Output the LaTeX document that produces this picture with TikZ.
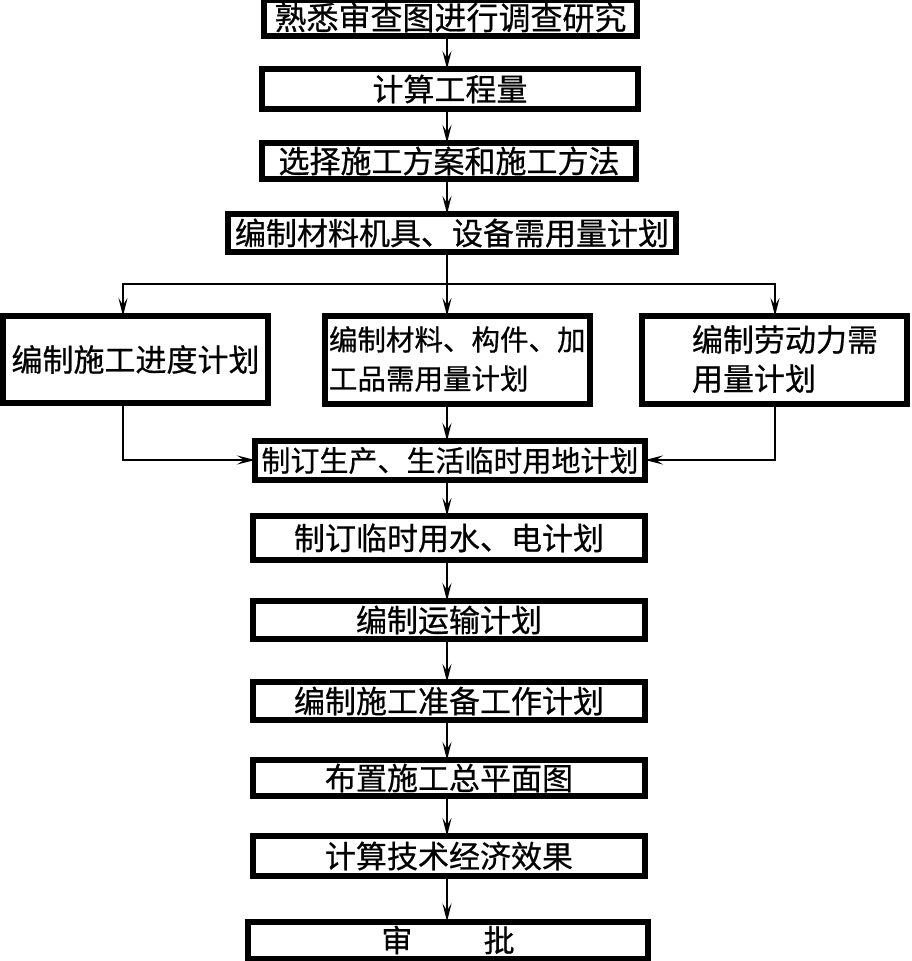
\documentclass[tikz,border=0pt]{standalone}
\usepackage{fontspec}
\setmainfont{Noto Sans CJK SC}[FakeBold=0.6]
\usetikzlibrary{arrows.meta}
\tikzset{
  box/.style={draw=black, line width=6pt, rectangle, inner sep=0pt, outer sep=0pt, fill=white,
    font={\fontsize{31}{39}\selectfont}},
  lbl/.style={inner sep=0pt, outer sep=0pt, align=left, font={\fontsize{31}{39}\selectfont}},
  conn/.style={line width=1.6pt, draw=black},
  arr/.style={conn, -{Stealth[length=18pt,width=9pt,inset=7pt]}}
}
\begin{document}
\begin{tikzpicture}[x=1pt,y=-1pt]
\useasboundingbox (0,0) rectangle (911,961);
\coordinate (ax) at (447,0);
\coordinate (lx) at (123,0);
\coordinate (rx) at (775,0);
\coordinate (split) at (447,284);
\coordinate (sidey) at (0,460);

\node[box, minimum width=373pt, minimum height=36pt, font={\fontsize{32}{39}\selectfont}] (b1) at (450.5,17.5) {熟悉审查图进行调查研究};
\node[box, minimum width=376pt, minimum height=40pt] (b2) at (450,89) {计算工程量};
\node[box, minimum width=374pt, minimum height=36pt] (b3) at (449,161) {选择施工方案和施工方法};
\node[box, minimum width=448pt, minimum height=38pt] (b4) at (452,233) {编制材料机具、设备需用量计划};

\node[box, minimum width=265pt, minimum height=87pt] (L) at (135.5,359.5) {编制施工进度计划};
\node[box, minimum width=265pt, minimum height=88pt] (M) at (457.5,360) {};
\node[lbl, anchor=west, font={\fontsize{28.5}{39}\selectfont}] (mt) at (329,359) {编制材料、构件、加\\工品需用量计划};
\node[box, minimum width=265pt, minimum height=88pt] (R) at (774.5,360) {};
\node[lbl, anchor=west] (rt) at (692,359) {编制劳动力需\\用量计划};

\node[box, minimum width=390pt, minimum height=39pt, font={\fontsize{29}{39}\selectfont}] (b5) at (450,460.5) {制订生产、生活临时用地计划};
\node[box, minimum width=392pt, minimum height=44pt] (b6) at (449,538) {制订临时用水、电计划};
\node[box, minimum width=392pt, minimum height=38pt] (b7) at (449,620) {编制运输计划};
\node[box, minimum width=392pt, minimum height=38pt] (b8) at (449,701) {编制施工准备工作计划};
\node[box, minimum width=392pt, minimum height=36pt] (b9) at (449,778) {布置施工总平面图};
\node[box, minimum width=392pt, minimum height=40pt] (b10) at (449,856) {计算技术经济效果};
\node[box, minimum width=400pt, minimum height=37pt] (b11) at (448,940) {审\hspace{2.3em}批};

\draw[arr] (b1.south -| ax) -- (b2.north -| ax);
\draw[arr] (b2.south -| ax) -- (b3.north -| ax);
\draw[arr] (b3.south -| ax) -- (b4.north -| ax);
\draw[conn] (b4.south -| ax) -- (split);
\draw[arr] (split) -- (M.north -| ax);
\draw[arr] (split) -- (split -| lx) -- (L.north -| lx);
\draw[arr] (split) -- (split -| rx) -- (R.north -| rx);
\draw[arr] (M.south -| ax) -- (b5.north -| ax);
\draw[arr] (L.south -| lx) -- (sidey -| lx) -- (b5.west |- sidey);
\draw[arr] (R.south -| rx) -- (sidey -| rx) -- (b5.east |- sidey);
\draw[arr] (b5.south -| ax) -- (b6.north -| ax);
\draw[arr] (b6.south -| ax) -- (b7.north -| ax);
\draw[arr] (b7.south -| ax) -- (b8.north -| ax);
\draw[arr] (b8.south -| ax) -- (b9.north -| ax);
\draw[arr] (b9.south -| ax) -- (b10.north -| ax);
\draw[arr] (b10.south -| ax) -- (b11.north -| ax);
\end{tikzpicture}
\end{document}
